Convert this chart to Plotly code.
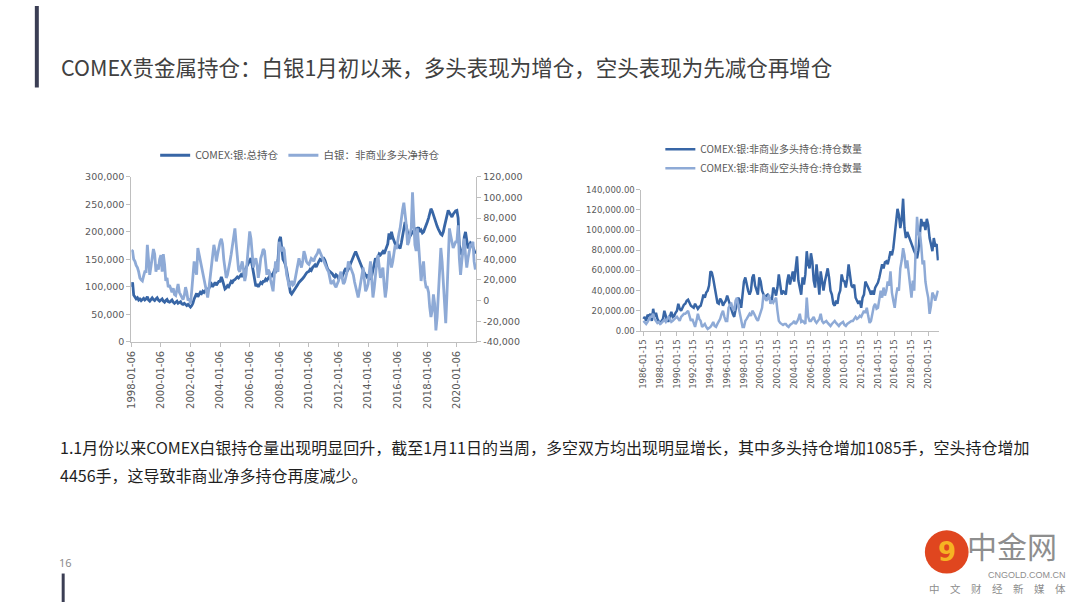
import numpy as np
import pandas as pd
import plotly.graph_objects as go

# ---------------- data ----------------
# Left chart: monthly samples from 1998-01 (thousands of contracts)
total_oi_k = [
    100,108,85,80,78,80,76,78,75,77,79,76,
    78,82,76,74,78,80,77,75,78,80,76,74,
    76,78,74,72,75,77,73,72,74,76,72,70,
    72,74,70,71,73,69,68,70,67,66,68,65,
    63,66,70,78,85,88,82,86,90,88,92,90,
    93,96,92,98,102,105,100,104,108,103,107,110,
    110,118,112,104,96,98,102,100,106,110,108,112,
    113,115,118,116,120,122,118,125,130,134,140,145,
    148,152,140,125,110,101,105,100,104,108,106,110,
    110,114,112,116,120,122,118,125,130,128,135,150,
    185,191,170,150,146,140,130,115,100,90,87,90,
    93,96,100,104,108,110,112,115,118,122,125,127,
    128,132,130,135,138,140,136,142,146,150,148,152,
    152,148,140,134,130,128,126,124,120,118,122,120,
    115,118,120,118,126,130,134,128,132,138,145,150,
    155,160,164,158,150,145,140,136,130,125,120,118,
    122,118,113,120,130,140,152,148,155,160,158,162,
    164,160,168,172,178,197,186,200,190,182,178,174,
    176,172,170,180,194,205,218,210,195,188,192,196,
    200,198,204,206,205,208,200,203,198,200,205,210,
    218,225,235,242,238,230,224,215,210,205,200,196,
    194,200,210,222,230,239,235,232,227,232,236,238,
    239,225,176,165,158,162,190,200,185,170,175,180,
    178,172,165,160,
]
net_long_k = [
    49,48,40,38,34,32,28,22,20,19,24,28,
    28,54,40,25,33,41,50,45,28,35,30,40,
    44,28,45,35,19,22,13,15,10,8,12,6,
    5,10,16,8,6,3,1,5,13,8,0,2,
    -3,10,25,38,30,25,51,45,38,30,25,18,
    13,8,3,12,22,35,44,54,48,38,45,52,
    57,60,55,40,28,22,25,30,38,45,54,62,
    70,55,41,30,28,32,38,30,19,25,38,50,
    67,60,48,32,38,41,35,22,30,41,45,50,
    48,35,25,30,28,20,13,9,25,38,30,28,
    57,50,48,52,49,35,25,20,13,16,19,15,
    16,22,28,34,41,36,32,38,48,44,38,36,
    35,38,41,40,38,42,44,46,50,47,44,42,
    38,35,32,30,28,22,16,18,19,15,13,16,
    19,24,28,22,16,18,22,28,38,35,32,28,
    25,18,13,8,3,10,19,26,32,20,9,12,
    16,28,38,20,3,12,28,36,44,30,22,28,
    32,15,3,12,28,48,40,32,38,45,54,50,
    60,65,70,83,88,95,86,73,54,57,65,70,
    105,76,54,48,70,54,35,19,30,38,20,13,
    13,8,-6,-16,-10,6,-3,-29,-16,10,40,51,
    38,16,-6,-22,6,38,70,63,55,51,54,57,
    57,73,41,25,38,51,60,44,32,41,50,54,
    54,57,38,30,
]
left_xticks = ["1998-01-06","2000-01-06","2002-01-06","2004-01-06","2006-01-06",
               "2008-01-06","2010-01-06","2012-01-06","2014-01-06","2016-01-06",
               "2018-01-06","2020-01-06"]
left_y_ticks = [0, 50000, 100000, 150000, 200000, 250000, 300000]
left_y2_ticks = [-40000, -20000, 0, 20000, 40000, 60000, 80000, 100000, 120000]

# Right chart: bi-monthly samples from 1986-01 (thousands of contracts)
long_k = [
    12,14,10,16,14,17,  10,22,14,18,12,9,   7,10,12,20,15,10,   10,15,19,14,15,18,
    20,27,22,20,23,26,  27,30,31,28,25,24,  23,27,25,22,24,25,  30,36,33,38,40,45,
    59,58,52,45,36,28,  27,32,30,25,28,30,  35,30,27,20,17,14,  23,28,33,30,23,40,
    49,53,45,40,36,40,  53,56,45,40,36,53,  49,40,36,33,35,36,  33,32,30,43,40,35,
    43,56,46,36,40,38,  36,49,56,46,53,59,  49,62,74,50,43,36,  53,46,56,79,66,62,
    77,69,50,43,66,53,  36,59,46,40,49,55,  62,53,40,36,27,25,  30,27,36,40,56,50,
    49,43,52,66,53,45,  43,46,33,30,27,30,  23,33,36,49,45,43,  40,36,40,36,43,45,
    48,53,60,66,62,68,  69,66,72,79,75,82,  95,108,121,115,102,110,
    131,102,92,98,94,90,  85,82,79,76,72,80,  100,111,104,108,100,111,
    105,92,86,79,92,85,  86,70,
]
short_k = [
    10,8,7,9,12,14,   14,17,12,10,8,9,   7,8,10,11,9,12,   14,12,9,10,12,13,
    14,12,10,14,16,17, 17,19,20,15,10,12, 7,4,10,17,12,10,  4,6,7,4,2,3,
    4,6,9,5,4,7,      10,12,17,20,14,10, 10,23,26,27,22,20, 30,33,25,17,8,4,
    4,10,12,14,17,15, 20,18,14,12,10,14, 17,23,36,33,30,32, 36,27,30,28,30,33,
    20,10,8,7,6,7,    7,5,4,6,7,8,       10,7,9,12,17,9,    10,8,7,33,14,10,
    10,12,14,10,8,10, 12,17,10,8,9,10,   8,6,5,7,9,10,      8,6,5,7,8,9,
    6,5,7,8,9,10,     10,12,14,12,13,15, 14,17,20,18,23,15, 8,10,18,24,27,22,
    23,30,40,33,43,35, 40,49,45,59,38,30, 23,35,43,40,62,70,
    82,75,62,70,56,45, 33,50,40,80,113,95, 98,85,66,70,49,40,
    33,17,25,38,35,30, 36,40,
]
right_xticks = ["1986-01-15","1988-01-15","1990-01-15","1992-01-15","1994-01-15",
                "1996-01-15","1998-01-15","2000-01-15","2002-01-15","2004-01-15",
                "2006-01-15","2008-01-15","2010-01-15","2012-01-15","2014-01-15",
                "2016-01-15","2018-01-15","2020-01-15"]
right_y_ticks = [0, 20000, 40000, 60000, 80000, 100000, 120000, 140000]

title_text = "COMEX贵金属持仓：白银1月初以来，多头表现为增仓，空头表现为先减仓再增仓"
body_line1 = "1.1月份以来COMEX白银持仓量出现明显回升，截至1月11日的当周，多空双方均出现明显增长，其中多头持仓增加1085手，空头持仓增加"
body_line2 = "4456手，这导致非商业净多持仓再度减少。"

# ---------------- helpers ----------------
W, H = 1080, 607
def px(x):
    return x / W
def py(y):
    return 1 - y / H

DARK = "#3866a6"
LIGHT = "#8eaad6"
AXIS = "#bfbfbf"
TXT = "#595959"
CJK = "Noto Sans CJK SC"
NUM = "DejaVu Sans"

left_dates = pd.date_range("1998-01-01", periods=len(total_oi_k), freq="MS") + pd.Timedelta(days=5)
right_dates = pd.date_range("1986-01-01", periods=len(long_k), freq="2MS") + pd.Timedelta(days=14)

fig = go.Figure()
fig.add_trace(go.Scatter(x=left_dates, y=np.array(total_oi_k) * 1000, name="COMEX:银:总持仓",
                         mode="lines", line=dict(color=DARK, width=2.8), xaxis="x", yaxis="y",
                         legend="legend"))
fig.add_trace(go.Scatter(x=left_dates, y=np.array(net_long_k) * 1000, name="白银：非商业多头净持仓",
                         mode="lines", line=dict(color=LIGHT, width=2.8), xaxis="x", yaxis="y2",
                         legend="legend"))
fig.add_trace(go.Scatter(x=right_dates, y=np.array(long_k) * 1000, name="COMEX:银:非商业多头持仓:持仓数量",
                         mode="lines", line=dict(color=DARK, width=2.5), xaxis="x2", yaxis="y3",
                         legend="legend2"))
fig.add_trace(go.Scatter(x=right_dates, y=np.array(short_k) * 1000, name="COMEX:银:非商业空头持仓:持仓数量",
                         mode="lines", line=dict(color=LIGHT, width=2.5), xaxis="x2", yaxis="y3",
                         legend="legend2"))

axis_common = dict(showgrid=False, zeroline=False, showline=True, linecolor=AXIS, linewidth=1,
                   ticks="outside", ticklen=4, tickcolor=AXIS)

fig.update_layout(
    width=W, height=H, margin=dict(l=0, r=0, t=0, b=0),
    paper_bgcolor="white", plot_bgcolor="rgba(0,0,0,0)",
    xaxis=dict(domain=[px(126), px(473)], anchor="y", type="date",
               range=["1998-01-06", "2021-05-01"], tickvals=left_xticks, ticktext=left_xticks,
               tickangle=-90, tickfont=dict(family=NUM, size=10, color=TXT), **axis_common),
    yaxis=dict(domain=[py(342), py(174)], anchor="x", range=[0, 300000],
               tickvals=left_y_ticks, ticktext=[f"{v:,}" for v in left_y_ticks],
               tickfont=dict(family=NUM, size=9.5, color=TXT), **axis_common),
    yaxis2=dict(overlaying="y", side="right", anchor="x", range=[-40000, 120000],
                tickvals=left_y2_ticks, ticktext=[f"{v:,}" for v in left_y2_ticks],
                tickfont=dict(family=NUM, size=9.5, color=TXT), **axis_common),
    xaxis2=dict(domain=[px(639), px(938)], anchor="y3", type="date",
                range=["1985-10-20", "2021-04-20"], tickvals=right_xticks, ticktext=right_xticks,
                tickangle=-90, tickfont=dict(family=NUM, size=8.5, color=TXT), **axis_common),
    yaxis3=dict(domain=[py(331), py(187)], anchor="x2", range=[0, 140000],
                tickvals=right_y_ticks, ticktext=[f"{v:,.2f}" for v in right_y_ticks],
                tickfont=dict(family=NUM, size=8.5, color=TXT), **axis_common),
    legend=dict(orientation="h", x=px(150), y=py(152), xanchor="left", yanchor="middle",
                font=dict(family=CJK, size=10.5, color=TXT), bgcolor="rgba(0,0,0,0)",
                itemwidth=30),
    legend2=dict(orientation="v", x=px(658), y=py(131), xanchor="left", yanchor="top",
                 font=dict(family=CJK, size=10, color=TXT), bgcolor="rgba(0,0,0,0)",
                 itemwidth=30, tracegroupgap=0),
    showlegend=True,
)

annotations = [
    dict(text=title_text, x=px(53), y=py(62), xanchor="left", yanchor="middle",
         font=dict(family=CJK, size=21.5, color="#404040")),
    dict(text=body_line1, x=px(52), y=py(449), xanchor="left", yanchor="middle",
         font=dict(family=CJK, size=16, color="#1f1f1f")),
    dict(text=body_line2, x=px(52), y=py(478), xanchor="left", yanchor="middle",
         font=dict(family=CJK, size=16, color="#1f1f1f")),
    dict(text="16", x=px(51), y=py(567), xanchor="left", yanchor="middle",
         font=dict(family="Noto Sans", size=11, color="#8c8c8c")),
    dict(text="中金网", x=px(964), y=py(549), xanchor="left", yanchor="middle",
         font=dict(family=CJK, size=30, color="#8e8e8e")),
    dict(text="CNGOLD.COM.CN", x=px(1068), y=py(580), xanchor="right", yanchor="middle",
         font=dict(family="Liberation Sans", size=9, color="#8e8e8e")),
    dict(text="中\u3000文\u3000财\u3000经\u3000新\u3000媒\u3000体", x=px(1068), y=py(593),
         xanchor="right", yanchor="middle", font=dict(family=CJK, size=10.5, color="#8e8e8e")),
    dict(text="<b>9</b>", x=px(946), y=py(556), xanchor="center", yanchor="middle",
         font=dict(family="DejaVu Sans", size=26, color="#f6b323")),
]
for a in annotations:
    a.update(xref="paper", yref="paper", showarrow=False)
fig.update_layout(annotations=annotations)

shapes = [
    dict(type="rect", x0=px(29), x1=px(33), y0=py(83), y1=py(0), fillcolor="#3b3e54", line_width=0),
    dict(type="rect", x0=px(56), x1=px(59), y0=py(607), y1=py(578), fillcolor="#3b3e54", line_width=0),
    dict(type="circle", x0=px(924), x1=px(968), y0=py(578), y1=py(534), fillcolor="#e0461f", line_width=0),
]
for s in shapes:
    s.update(xref="paper", yref="paper", layer="below")
fig.update_layout(shapes=shapes)

fig.write_html("out.html", config={"displayModeBar": False},
               post_script="document.body.style.margin='0';document.body.style.overflow='hidden';")
